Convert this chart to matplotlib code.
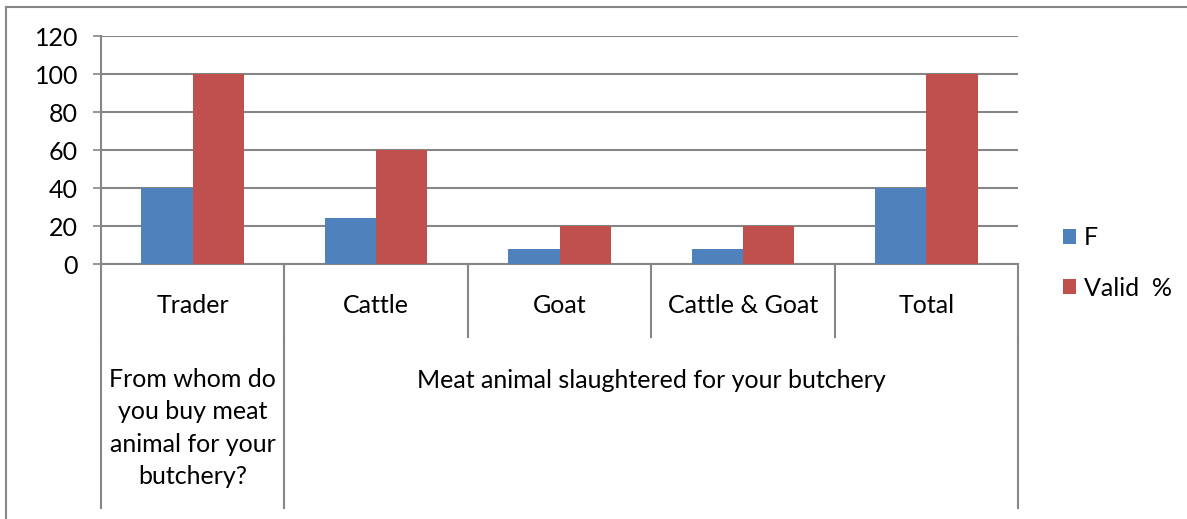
import matplotlib
matplotlib.use("Agg")
import matplotlib.pyplot as plt
from matplotlib.lines import Line2D
import numpy as np

plt.rcParams['font.family'] = ['Lato', 'DejaVu Sans']

categories = ["Trader", "Cattle", "Goat", "Cattle & Goat", "Total"]
f_values = [40, 24, 8, 8, 40]
valid_values = [100, 60, 20, 20, 100]
series_names = ["F", "Valid  %"]
group_labels = ["From whom do\nyou buy meat\nanimal for your\nbutchery?",
                "Meat animal slaughtered for your butchery"]
yticks = [0, 20, 40, 60, 80, 100, 120]

blue = "#4F81BD"
red = "#C0504D"
grey = "#868686"

W, H = 1187, 519
fig = plt.figure(figsize=(W / 100, H / 100), dpi=100)
ax = fig.add_axes([101 / W, 1 - 264 / H, (1018 - 101) / W, (264 - 36) / H])

x = np.arange(len(categories))
bw = 0.28
ax.bar(x - bw / 2, f_values, bw, color=blue, label=series_names[0], zorder=3)
ax.bar(x + bw / 2, valid_values, bw, color=red, label=series_names[1], zorder=3)

ax.set_xlim(-0.5, len(categories) - 0.5)
ax.set_ylim(0, 120)
ax.set_yticks(yticks)
ax.yaxis.grid(True, color=grey, linewidth=1.5, zorder=0)
ax.tick_params(axis='y', labelsize=18, length=5.5, width=1.2, color=grey, pad=11)
ax.set_xticks([])
for s in ["top", "right"]:
    ax.spines[s].set_visible(False)
for s in ["left", "bottom"]:
    ax.spines[s].set_color(grey)
    ax.spines[s].set_linewidth(1.5)

# category table under the axis
tr = ax.get_xaxis_transform()
row1, row2 = -0.32, -1.07
for b in np.arange(-0.5, len(categories), 1.0):
    ax.add_line(Line2D([b, b], [0, row1], transform=tr, color=grey, lw=1.5, clip_on=False))
for b in [-0.5, 0.5, len(categories) - 0.5]:
    ax.add_line(Line2D([b, b], [row1, row2], transform=tr, color=grey, lw=1.5, clip_on=False))
for xi, c in zip(x, categories):
    ax.text(xi, -0.18, c, transform=tr, ha='center', va='center', fontsize=18)
ax.text(0, -0.72, group_labels[0], transform=tr, ha='center', va='center',
        fontsize=18, linespacing=1.5)
ax.text((1 + len(categories) - 1) / 2, -0.51, group_labels[1], transform=tr,
        ha='center', va='center', fontsize=18)

# legend
ax.legend(loc='center left', bbox_to_anchor=(1040 / W, 1 - 263 / H),
          bbox_transform=fig.transFigure, frameon=False, fontsize=18,
          handlelength=0.55, handleheight=0.55, handletextpad=0.3, labelspacing=1.1)

# outer chart border (left and top)
fig.add_artist(Line2D([6 / W, 6 / W], [0, 1 - 7 / H], color=grey, lw=1.5))
fig.add_artist(Line2D([6 / W, 1], [1 - 7 / H, 1 - 7 / H], color=grey, lw=1.5))

fig.savefig("out.png", dpi=100)
